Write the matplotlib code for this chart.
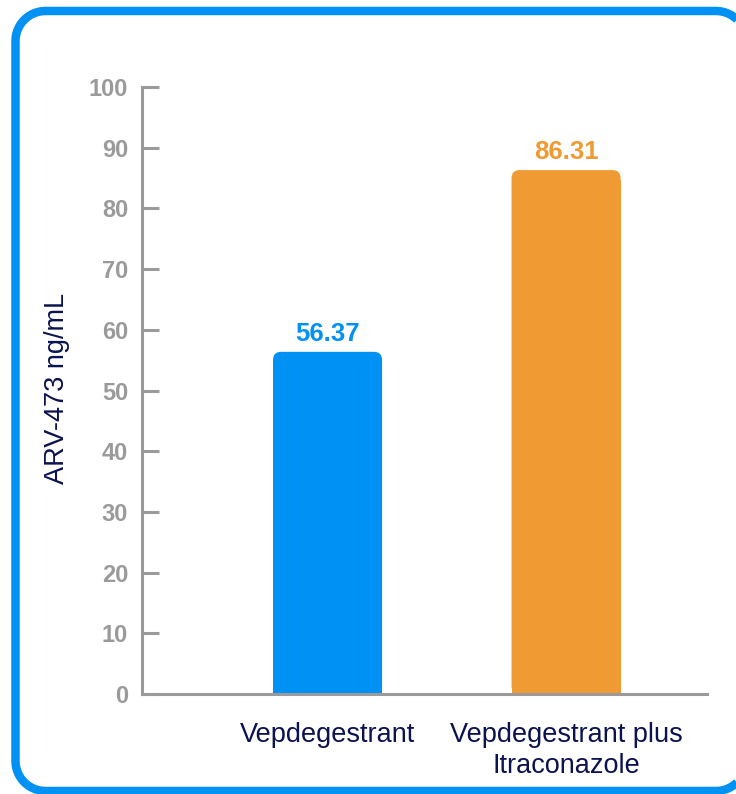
import matplotlib
matplotlib.use('Agg')
import matplotlib.pyplot as plt
import numpy as np
from matplotlib.patches import FancyBboxPatch, Rectangle, Polygon
from matplotlib.transforms import IdentityTransform

categories = ['Vepdegestrant', 'Vepdegestrant plus\nItraconazole']
values = [56.37, 86.31]
value_labels = ['56.37', '86.31']
bar_colors = ['#0091F5', '#EF9A32']
y_ticks = [0, 10, 20, 30, 40, 50, 60, 70, 80, 90, 100]

plt.rcParams['font.family'] = ['Liberation Sans', 'DejaVu Sans']

navy = '#0B1250'
grey = '#9A9A9A'


def rounded_rect(x0, y0, x1, y1, r, n=20):
    # polyline rounded rectangle (avoids bezier clipping artefacts at the canvas edge)
    pts = []
    corners = [(x1 - r, y1 - r, 0), (x0 + r, y1 - r, 90), (x0 + r, y0 + r, 180), (x1 - r, y0 + r, 270)]
    for cx, cy, a0 in corners:
        t = np.radians(np.linspace(a0, a0 + 90, n))
        pts += list(zip(cx + r * np.cos(t), cy + r * np.sin(t)))
    return pts


fig = plt.figure(figsize=(7.36, 7.94), dpi=100)
ax = fig.add_axes([142 / 736, 1 - 694 / 794, (707 - 142) / 736, (694 - 87) / 794])

ax.set_xlim(-0.778, 1.591)
ax.set_ylim(0, 100)

width = 0.457
# px per data unit, keeps the rounded corners circular
px_x = 238.5
px_y = 6.07
r_px = 8
for i, (v, c, lab) in enumerate(zip(values, bar_colors, value_labels)):
    x0 = i - width / 2
    top = FancyBboxPatch((x0, 0), width, v,
                         boxstyle=f'round,pad=0,rounding_size={r_px / px_x}',
                         mutation_aspect=px_x / px_y,
                         facecolor=c, edgecolor='none', zorder=2)
    ax.add_patch(top)
    ax.add_patch(Rectangle((x0, 0), width, v - r_px / px_y * 1.2,
                           facecolor=c, edgecolor='none', zorder=2))
    ax.annotate(lab, (i, v), xytext=(0, 8), textcoords='offset points',
                ha='center', va='baseline', fontsize=18.5, fontweight='bold', color=c)

ax.set_xticks(range(len(categories)))
ax.set_xticklabels(categories, fontsize=19.5, color=navy, linespacing=1.25)
ax.tick_params(axis='x', length=0, pad=20)

ax.set_yticks(y_ticks)
ax.set_yticklabels([str(t) for t in y_ticks], fontsize=17, fontweight='bold', color=grey)
ax.tick_params(axis='y', direction='in', length=12, width=2.2, color=grey, pad=10)

for s in ['top', 'right']:
    ax.spines[s].set_visible(False)
for s in ['left', 'bottom']:
    ax.spines[s].set_color(grey)
    ax.spines[s].set_linewidth(2.2)

fig.text(57 / 736, 1 - 388 / 794, 'ARV-473 ng/mL', rotation=90, ha='center', va='center',
         fontsize=19.5, color=navy)

# rounded blue frame, in pixels (y from bottom)
frame = Polygon(rounded_rect(15.5, 3, 746, 783, 30), closed=True,
                transform=IdentityTransform(), facecolor='none',
                edgecolor='#0091F5', linewidth=6.1, joinstyle='round')
fig.patches.append(frame)

fig.savefig('out.png', dpi=100)
